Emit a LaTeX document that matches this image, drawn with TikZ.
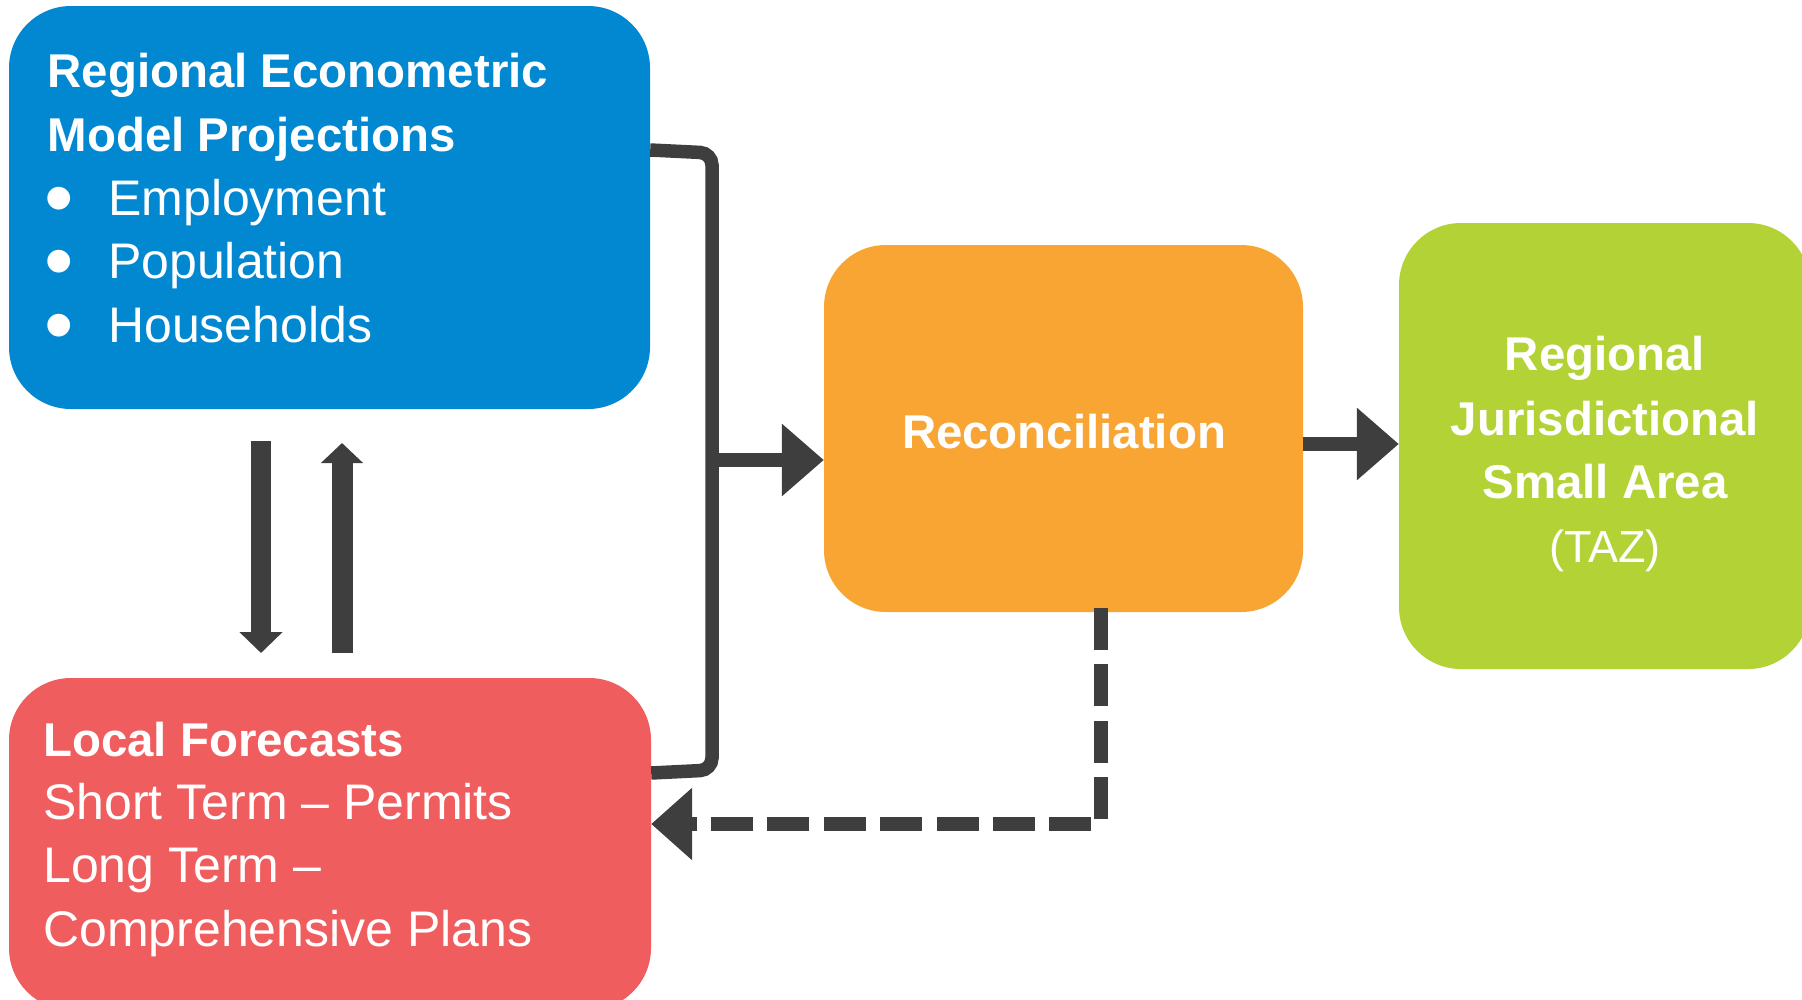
\documentclass[tikz,border=0pt]{standalone}
\usepackage{fontspec}
\setmainfont{Liberation Sans}
\usetikzlibrary{arrows.meta}
\definecolor{cblue}{RGB}{2,136,209}
\definecolor{corange}{RGB}{249,165,52}
\definecolor{cgreen}{RGB}{178,210,53}
\definecolor{cred}{RGB}{240,93,94}
\definecolor{cdark}{RGB}{62,62,62}
\tikzset{
  boxstyle/.style={rectangle, rounded corners=62pt, inner sep=0pt, draw=none},
  txt/.style={text=white, inner sep=0pt, anchor=base west},
  ctxt/.style={text=white, inner sep=0pt, anchor=base},
  titlefont/.style={font=\fontsize{47.4}{56}\selectfont\bfseries},
  bodyfont/.style={font=\fontsize{50}{60}\selectfont},
  tazfont/.style={font=\fontsize{45}{56}\selectfont},
  bulletfont/.style={font=\fontsize{84}{84}\selectfont},
  conn/.style={draw=cdark, line width=14pt},
  bigarrow/.style={conn, -{Triangle[length=42pt,width=70pt]}},
}
\begin{document}
\begin{tikzpicture}[x=1pt,y=-1pt]
\useasboundingbox (0,0) rectangle (1802,999);
\clip (0,0) rectangle (1802,999);

% boxes
\node[boxstyle, fill=cblue, minimum width=641pt, minimum height=403pt] (blue) at (329.5,207.5) {};
\node[boxstyle, fill=cred, minimum width=642pt, minimum height=332pt] (red) at (330,844) {};
\node[boxstyle, fill=corange, minimum width=479pt, minimum height=367pt] (orange) at (1063.5,428.5) {};
\node[boxstyle, fill=cgreen, minimum width=411pt, minimum height=446pt] (green) at (1604.5,446) {};

% blue text
\node[txt, titlefont] (b1) at (47.5,87) {Regional Econometric};
\node[txt, titlefont] (b2) at (47.5,151) {Model Projections};
\node[ctxt, bulletfont, anchor=center] (u1) at (59,207) {•};
\node[ctxt, bulletfont, anchor=center] (u2) at (59,270) {•};
\node[ctxt, bulletfont, anchor=center] (u3) at (59,334) {•};
\node[txt, bodyfont] (b3) at (108,215) {Employment};
\node[txt, bodyfont] (b4) at (108,278) {Population};
\node[txt, bodyfont] (b5) at (108,342) {Households};

% red text
\node[txt, titlefont] (r1) at (43,756) {Local Forecasts};
\node[txt, bodyfont] (r2) at (43,819) {Short Term – Permits};
\node[txt, bodyfont] (r3) at (43,882) {Long Term –};
\node[txt, bodyfont] (r4) at (43,946) {Comprehensive Plans};

% orange text
\node[ctxt, titlefont] (o1) at (1064,448) {Reconciliation};

% green text
\node[ctxt, titlefont] (g1) at (1605,370) {Regional};
\node[ctxt, titlefont] (g2) at (1605,435) {Jurisdictional};
\node[ctxt, titlefont] (g3) at (1605,498) {Small Area};
\node[ctxt, tazfont] (g4) at (1605,562) {(TAZ)};

% bracket connector
\coordinate (jtop) at (712,153);
\coordinate (jbot) at (712,770);
\coordinate (junc) at (712,460);
\draw[conn, line width=13.5pt, rounded corners=12pt]
  (blue.east |- 0,150) -- (jtop) -- (jbot) -- (red.east |- 0,773);
\draw[bigarrow] (junc) -- (orange.west |- junc);

% orange -> green
\coordinate (og) at (0,444);
\draw[bigarrow] (orange.east |- og) -- (green.west |- og);

% vertical arrows between blue and red
\coordinate (d1) at (261,441);
\coordinate (d2) at (261,653);
\coordinate (e1) at (342,653);
\coordinate (e2) at (342,443);
\draw[conn, line width=20pt, -{Triangle[length=21pt,width=42pt]}] (d1) -- (d2);
\draw[conn, line width=21pt, -{Triangle[length=20pt,width=41pt]}] (e1) -- (e2);

% dashed feedback
\coordinate (f1) at (1101,608);
\coordinate (f2) at (1101,824);
\draw[conn, dash pattern=on 42pt off 14.4pt, -{Triangle[length=41pt,width=70pt]}]
  (f1) -- (f2) -- (red.east |- f2);
\end{tikzpicture}
\end{document}
